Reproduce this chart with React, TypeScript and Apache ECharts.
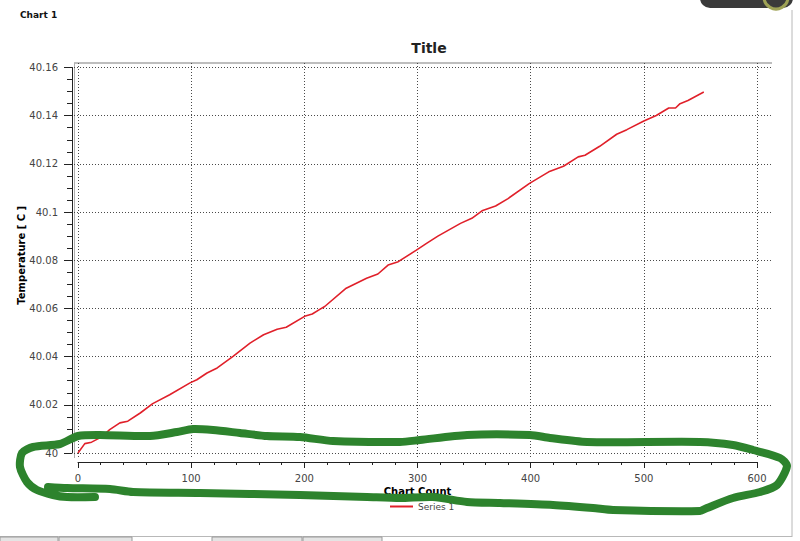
import React, { useEffect, useRef } from "react";
import * as echarts from "echarts";

const xValues = [0, 6, 12, 21, 28, 37, 44, 55, 66, 81, 99, 105, 114, 123, 137, 152, 164, 176, 184, 201, 207, 214, 218, 237, 255, 265, 274, 283, 299, 308, 318, 338, 348, 357, 369, 380, 399, 416, 429, 442, 448, 461, 476, 485, 500, 511, 522, 528, 532, 539, 553];
const yValues = [40.0, 40.0039, 40.0045, 40.0067, 40.0097, 40.0125, 40.0132, 40.0166, 40.0205, 40.0242, 40.0291, 40.0304, 40.0332, 40.0353, 40.0401, 40.0456, 40.0491, 40.0514, 40.0522, 40.0569, 40.0577, 40.0597, 40.0608, 40.0684, 40.0725, 40.0743, 40.078, 40.0794, 40.0842, 40.087, 40.09, 40.0953, 40.0974, 40.1005, 40.1025, 40.1056, 40.1119, 40.1167, 40.119, 40.1229, 40.1236, 40.1273, 40.1323, 40.1342, 40.1378, 40.1401, 40.1432, 40.1432, 40.145, 40.1463, 40.1498];
const seriesName = "Series 1";
const xRange = [0, 600];
const yRange = [40, 40.16];

const FONT = "DejaVu Sans";

const annotationLoop = [
  [95, 497], [67, 497], [53, 495], [37, 490], [27, 482], [20, 467], [22, 453], [33, 447], [60, 444], [78, 436],
  [100, 435], [150, 436], [177, 432], [193, 429], [213, 430], [240, 433], [267, 436], [300, 437], [333, 441],
  [400, 442], [420, 440], [467, 435], [530, 435], [550, 438], [587, 442], [700, 442], [733, 445], [753, 450],
  [780, 458], [787, 466], [777, 485], [760, 492], [733, 498], [707, 508], [700, 511], [613, 510], [593, 508],
  [553, 505], [500, 503], [467, 502], [433, 497], [400, 498], [367, 497], [300, 495], [200, 493], [133, 492],
  [110, 489], [67, 488], [48, 487],
];

export default function App() {
  const ref = useRef<HTMLDivElement>(null);
  useEffect(() => {
    if (!ref.current) return;
    const chart = echarts.init(ref.current, null, { renderer: "svg" });
    const data = xValues.map((x, i) => [x, yValues[i]]);
    const dotted = { color: "#4a4a4a", width: 1, type: [1, 2] };
    const option: any = {
      animation: false,
      backgroundColor: "#ffffff",
      title: [
        {
          text: "Chart 1",
          left: 15,
          top: 5,
          textStyle: { fontFamily: FONT, fontSize: 9, fontWeight: "bold", color: "#111" },
        },
        {
          text: "Title",
          left: 424,
          top: 36,
          textAlign: "center",
          textStyle: { fontFamily: FONT, fontSize: 14, fontWeight: "bold", color: "#222" },
        },
      ],
      legend: {
        data: [{ name: seriesName, icon: "rect" }],
        left: 385,
        top: 497,
        itemWidth: 23,
        itemHeight: 2,
        itemGap: 10,
        textStyle: { fontFamily: FONT, fontSize: 9, color: "#444" },
      },
      grid: [
        { left: 78, right: 43, top: 67.5, bottom: 88, containLabel: false },
        { left: 74, right: 28, top: 67.5, bottom: 88, containLabel: false },
        { left: 78, right: 43, top: 63, bottom: 84, containLabel: false },
      ],
      xAxis: [
        {
          type: "value",
          gridIndex: 0,
          min: xRange[0],
          max: xRange[1],
          interval: 100,
          offset: 9,
          name: "Chart Count",
          nameLocation: "middle",
          nameGap: 24,
          nameMoveOverlap: false,
          nameTextStyle: { fontFamily: FONT, fontSize: 10, fontWeight: "bold", color: "#000" },
          axisLine: { show: true, onZero: false, lineStyle: { color: "#222", width: 1 } },
          axisTick: { show: true, length: 6, lineStyle: { color: "#222" } },
          minorTick: { show: true, splitNumber: 5, length: 3, lineStyle: { color: "#222" } },
          axisLabel: { fontFamily: FONT, fontSize: 10, color: "#444", margin: 11 },
          splitLine: { show: false },
        },
        { type: "value", gridIndex: 1, min: 0, max: 1, show: false },
        {
          type: "value",
          gridIndex: 2,
          min: xRange[0],
          max: xRange[1],
          interval: 100,
          axisLine: { show: false },
          axisTick: { show: false },
          axisLabel: { show: false },
          splitLine: { show: true, lineStyle: dotted },
        },
      ],
      yAxis: [
        {
          type: "value",
          gridIndex: 0,
          min: yRange[0],
          max: yRange[1],
          interval: 0.02,
          offset: 6,
          name: "Temperature [ C ]",
          nameLocation: "middle",
          nameGap: 46,
          nameMoveOverlap: false,
          nameTextStyle: { fontFamily: FONT, fontSize: 10, fontWeight: "bold", color: "#000", padding: [0, 0, 0, 10] },
          axisLine: { show: true, onZero: false, lineStyle: { color: "#222", width: 1 } },
          axisTick: { show: true, length: 8, lineStyle: { color: "#222" } },
          minorTick: { show: true, splitNumber: 4, length: 5, lineStyle: { color: "#222" } },
          axisLabel: { fontFamily: FONT, fontSize: 10, color: "#444", margin: 14 },
          splitLine: { show: false },
        },
        {
          type: "value",
          gridIndex: 1,
          min: yRange[0],
          max: yRange[1],
          interval: 0.02,
          axisLine: { show: false },
          axisTick: { show: false },
          axisLabel: { show: false },
          splitLine: { show: true, lineStyle: dotted },
        },
        { type: "value", gridIndex: 2, min: 0, max: 1, show: false },
      ],
      series: [
        {
          name: seriesName,
          type: "line",
          xAxisIndex: 0,
          yAxisIndex: 0,
          data,
          symbol: "none",
          lineStyle: { color: "#e0202a", width: 1.6 },
          itemStyle: { color: "#e0202a" },
        },
      ],
      graphic: [
        { type: "line", shape: { x1: 74, y1: 63, x2: 772, y2: 63 }, style: { stroke: "#a8a8a8", lineWidth: 1.5 } },
        { type: "line", shape: { x1: 74.5, y1: 63, x2: 74.5, y2: 458 }, style: { stroke: "#b0b0b0", lineWidth: 1 } },
        { type: "line", shape: { x1: 792, y1: 10, x2: 792, y2: 537 }, style: { stroke: "#b8b8b8", lineWidth: 1 } },
        { type: "line", shape: { x1: 0, y1: 536.5, x2: 792, y2: 536.5 }, style: { stroke: "#b8b8b8", lineWidth: 1 } },
        { type: "rect", shape: { x: 0, y: 537, width: 58, height: 6 }, style: { fill: "#e4e4e4", stroke: "#9a9a9a", lineWidth: 1 } },
        { type: "rect", shape: { x: 59, y: 537, width: 73, height: 6 }, style: { fill: "#e4e4e4", stroke: "#9a9a9a", lineWidth: 1 } },
        { type: "rect", shape: { x: 212, y: 537, width: 90, height: 6 }, style: { fill: "#e4e4e4", stroke: "#9a9a9a", lineWidth: 1 } },
        { type: "rect", shape: { x: 303, y: 537, width: 79, height: 6 }, style: { fill: "#e4e4e4", stroke: "#9a9a9a", lineWidth: 1 } },
        { type: "rect", shape: { x: 700, y: -14, width: 93, height: 22, r: 10 }, style: { fill: "#3a3a3a" } },
        { type: "circle", shape: { cx: 776, cy: -3, r: 12 }, style: { fill: "none", stroke: "#9ea256", lineWidth: 3 } },
        {
          type: "polyline",
          z: 100,
          shape: { points: annotationLoop, smooth: 0.25 },
          style: { stroke: "#2d832d", lineWidth: 8, fill: "none", lineCap: "round", lineJoin: "round" },
        },
      ],
    };
    chart.setOption(option);
    return () => chart.dispose();
  }, []);
  return (
    <div
      ref={ref}
      style={{ position: "fixed", left: 0, top: 0, width: 800, height: 541 }}
    />
  );
}
